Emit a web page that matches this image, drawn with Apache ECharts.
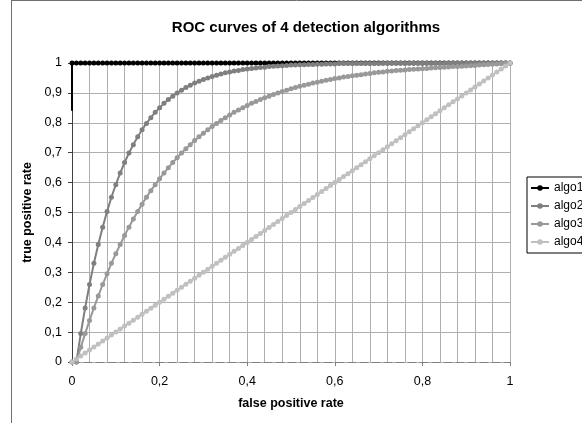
<!DOCTYPE html>
<html>
<head>
<meta charset="utf-8">
<script src="https://cdn.jsdelivr.net/npm/echarts@6/dist/echarts.min.js"></script>
<style>
html,body{margin:0;padding:0;background:#fff;}
#chart{width:582px;height:423px;}
</style>
</head>
<body>
<div id="chart"></div>
<script>
const titleText = 'ROC curves of 4 detection algorithms';
const xName = 'false positive rate';
const yName = 'true positive rate';
const seriesNames = ['algo1', 'algo2', 'algo3', 'algo4'];

const fpr = [0,0.01,0.02,0.03,0.04,0.05,0.06,0.07,0.08,0.09,
  0.10,0.11,0.12,0.13,0.14,0.15,0.16,0.17,0.18,0.19,
  0.20,0.21,0.22,0.23,0.24,0.25,0.26,0.27,0.28,0.29,
  0.30,0.31,0.32,0.33,0.34,0.35,0.36,0.37,0.38,0.39,
  0.40,0.41,0.42,0.43,0.44,0.45,0.46,0.47,0.48,0.49,
  0.50,0.51,0.52,0.53,0.54,0.55,0.56,0.57,0.58,0.59,
  0.60,0.61,0.62,0.63,0.64,0.65,0.66,0.67,0.68,0.69,
  0.70,0.71,0.72,0.73,0.74,0.75,0.76,0.77,0.78,0.79,
  0.80,0.81,0.82,0.83,0.84,0.85,0.86,0.87,0.88,0.89,
  0.90,0.91,0.92,0.93,0.94,0.95,0.96,0.97,0.98,0.99,1];

const algo1Start = 0.84;
const algo1 = [1,1,1,1,1,1,1,1,1,1,
  1,1,1,1,1,1,1,1,1,1,
  1,1,1,1,1,1,1,1,1,1,
  1,1,1,1,1,1,1,1,1,1,
  1,1,1,1,1,1,1,1,1,1,
  1,1,1,1,1,1,1,1,1,1,
  1,1,1,1,1,1,1,1,1,1,
  1,1,1,1,1,1,1,1,1,1,
  1,1,1,1,1,1,1,1,1,1,
  1,1,1,1,1,1,1,1,1,1,1];

const algo2 = [0,0,0.095,0.181,0.259,0.330,0.393,0.451,0.503,0.551,
  0.593,0.632,0.667,0.699,0.727,0.753,0.777,0.798,0.817,0.835,
  0.850,0.865,0.878,0.889,0.900,0.909,0.918,0.926,0.933,0.939,
  0.945,0.950,0.955,0.959,0.963,0.967,0.970,0.973,0.975,0.978,
  0.980,0.982,0.983,0.985,0.986,0.988,0.989,0.990,0.991,0.992,
  0.993,0.993,0.994,0.994,0.995,0.995,0.996,0.996,0.997,0.997,
  0.997,0.998,0.998,0.998,0.998,0.998,0.998,0.998,0.998,0.998,
  0.998,0.999,0.999,0.999,0.999,0.999,0.999,0.999,0.999,0.999,
  0.999,0.999,0.999,0.999,0.999,0.999,1,1,1,1,
  1,1,1,1,1,1,1,1,1,1,1];

const algo3 = [0,0,0.049,0.095,0.139,0.181,0.221,0.259,0.295,0.330,
  0.362,0.393,0.423,0.451,0.478,0.503,0.528,0.551,0.573,0.593,
  0.613,0.632,0.650,0.667,0.683,0.699,0.713,0.727,0.741,0.753,
  0.765,0.777,0.788,0.798,0.808,0.817,0.826,0.835,0.843,0.850,
  0.858,0.865,0.871,0.878,0.884,0.889,0.895,0.900,0.905,0.909,
  0.914,0.918,0.922,0.926,0.929,0.933,0.936,0.939,0.942,0.945,
  0.948,0.950,0.953,0.955,0.957,0.959,0.961,0.963,0.965,0.967,
  0.969,0.970,0.972,0.973,0.975,0.976,0.977,0.978,0.979,0.980,
  0.981,0.982,0.983,0.984,0.985,0.986,0.987,0.988,0.988,0.989,
  0.990,0.991,0.992,0.993,0.994,0.995,0.996,0.997,0.998,0.999,1];

const algo4 = [0,0.01,0.02,0.03,0.04,0.05,0.06,0.07,0.08,0.09,
  0.10,0.11,0.12,0.13,0.14,0.15,0.16,0.17,0.18,0.19,
  0.20,0.21,0.22,0.23,0.24,0.25,0.26,0.27,0.28,0.29,
  0.30,0.31,0.32,0.33,0.34,0.35,0.36,0.37,0.38,0.39,
  0.40,0.41,0.42,0.43,0.44,0.45,0.46,0.47,0.48,0.49,
  0.50,0.51,0.52,0.53,0.54,0.55,0.56,0.57,0.58,0.59,
  0.60,0.61,0.62,0.63,0.64,0.65,0.66,0.67,0.68,0.69,
  0.70,0.71,0.72,0.73,0.74,0.75,0.76,0.77,0.78,0.79,
  0.80,0.81,0.82,0.83,0.84,0.85,0.86,0.87,0.88,0.89,
  0.90,0.91,0.92,0.93,0.94,0.95,0.96,0.97,0.98,0.99,1];

const colors = ['#000000', '#7f7f7f', '#999999', '#c0c0c0'];
const FONT = '"Liberation Sans", Arial, sans-serif';

function pairs(ys) { return fpr.map((x, i) => [x, ys[i]]); }
function fmt(v) { return String(Math.round(v * 10) / 10).replace('.', ','); }

const chart = echarts.init(document.getElementById('chart'), null, {renderer: 'canvas'});

function lineSeries(name, data, color, z) {
  return {
    name: name, type: 'line', data: data, z: z,
    symbol: 'circle', symbolSize: 5, showSymbol: true,
    lineStyle: {color: color, width: 2},
    itemStyle: {color: color},
    animation: false
  };
}

const algo1Data = [{value: [0, algo1Start], symbol: 'none'}].concat(pairs(algo1));

const option = {
  animation: false,
  textStyle: {fontFamily: FONT},
  title: {
    text: titleText, left: 301, top: 15, textAlign: 'center',
    textStyle: {fontSize: 15, fontWeight: 'bold', color: '#000', fontFamily: FONT}
  },
  legend: {
    orient: 'vertical', left: 527, top: 177,
    padding: [4, 40, 4, 3], itemGap: 4, itemWidth: 18, itemHeight: 7,
    borderColor: '#000', borderWidth: 1,
    textStyle: {fontSize: 12, color: '#000', fontFamily: FONT, lineHeight: 14},
    data: seriesNames
  },
  grid: {left: 72, top: 63, right: 72, bottom: 61, containLabel: false},
  xAxis: {
    type: 'value', min: 0, max: 1, interval: 0.2,
    name: xName, nameLocation: 'middle', nameGap: 35,
    nameTextStyle: {fontSize: 12.5, fontWeight: 'bold', color: '#000', fontFamily: FONT},
    axisLine: {show: true, onZero: true, lineStyle: {color: '#808080', width: 1, type: [8, 4]}},
    axisTick: {show: true, length: 4, lineStyle: {color: '#808080'}},
    axisLabel: {formatter: fmt, fontSize: 12.5, color: '#000', margin: 13, fontFamily: FONT},
    splitLine: {show: true, lineStyle: {color: '#b0b0b0', width: 1}},
    minorTick: {show: false, splitNumber: 5},
    minorSplitLine: {show: true, lineStyle: {color: '#b0b0b0', width: 1}}
  },
  yAxis: {
    type: 'value', min: 0, max: 1, interval: 0.1,
    name: yName, nameLocation: 'middle', nameGap: 35,
    nameTextStyle: {fontSize: 12.5, fontWeight: 'bold', color: '#000', fontFamily: FONT},
    axisLine: {show: true, lineStyle: {color: '#404040', width: 1}},
    axisTick: {show: true, length: 4, lineStyle: {color: '#404040'}},
    axisLabel: {formatter: fmt, fontSize: 12.5, color: '#000', margin: 10, fontFamily: FONT},
    splitLine: {show: true, lineStyle: {color: '#b0b0b0', width: 1}}
  },
  graphic: [
    {type: 'line', shape: {x1: 11, y1: 0.5, x2: 582, y2: 0.5}, style: {stroke: '#707070', lineWidth: 1}},
    {type: 'line', shape: {x1: 11.5, y1: 0, x2: 11.5, y2: 423}, style: {stroke: '#707070', lineWidth: 1}}
  ],
  series: [
    lineSeries('algo1', algo1Data, colors[0], 2),
    lineSeries('algo2', pairs(algo2), colors[1], 3),
    lineSeries('algo3', pairs(algo3), colors[2], 4),
    lineSeries('algo4', pairs(algo4), colors[3], 5)
  ]
};
chart.setOption(option);
</script>
</body>
</html>
